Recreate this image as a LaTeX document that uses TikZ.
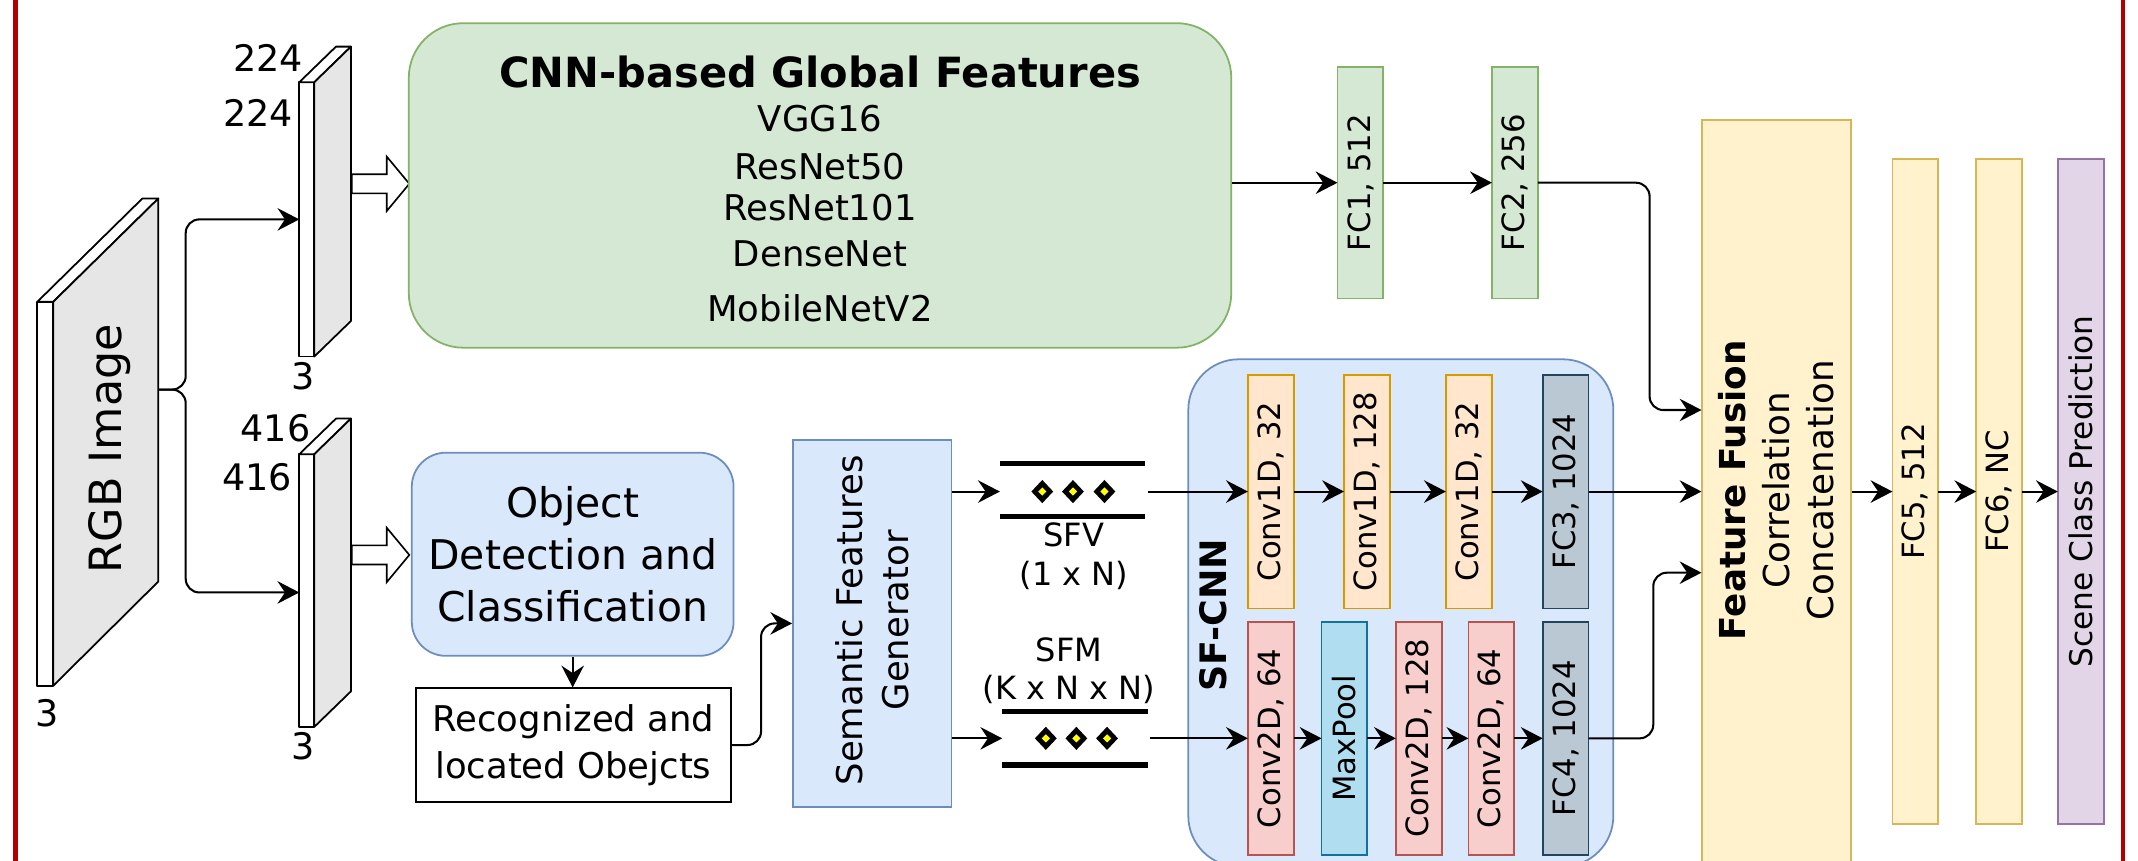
\documentclass[tikz,border=0pt]{standalone}
\usepackage{fontspec}
\usepackage{graphicx}
\setmainfont{DejaVu Sans}
\usetikzlibrary{arrows.meta}
\definecolor{gfill}{HTML}{D5E8D4}\definecolor{gline}{HTML}{82B366}
\definecolor{bfill}{HTML}{DAE8FC}\definecolor{bline}{HTML}{6C8EBF}
\definecolor{ofill}{HTML}{FFE6CC}\definecolor{oline}{HTML}{D79B00}
\definecolor{rfill}{HTML}{F8CECC}\definecolor{rline}{HTML}{B85450}
\definecolor{mfill}{HTML}{B1DDF0}\definecolor{mline}{HTML}{10739E}
\definecolor{sfill}{HTML}{BAC8D3}\definecolor{sline}{HTML}{23445D}
\definecolor{yfill}{HTML}{FFF2CC}\definecolor{yline}{HTML}{D6B656}
\definecolor{pfill}{HTML}{E1D5E7}\definecolor{pline}{HTML}{9673A6}
\definecolor{slabgray}{HTML}{E6E6E6}
\definecolor{frame}{HTML}{B20000}
\definecolor{dotyellow}{HTML}{FFFF00}
\tikzset{
  layer/.style={draw, line width=1.3pt, inner sep=0pt, outer sep=0pt, minimum width=33.6pt, font=\fontsize{22.5pt}{27pt}\selectfont},
  fcg/.style={layer, fill=gfill, draw=gline, minimum height=170pt},
  c1d/.style={layer, fill=ofill, draw=oline, minimum height=171.5pt},
  c2d/.style={layer, fill=rfill, draw=rline, minimum height=171pt},
  mpool/.style={layer, fill=mfill, draw=mline, minimum height=171pt},
  fcs/.style={layer, fill=sfill, draw=sline},
  fcy/.style={layer, fill=yfill, draw=yline, minimum height=488pt},
  arr/.style={-{Stealth[length=16pt,width=16.5pt,inset=5.5pt]}, line width=1.5pt},
  slab/.style={draw, line width=1.3pt, line join=round},
  dimlbl/.style={font=\fontsize{26.8pt}{32pt}\selectfont, inner sep=0pt},
  listlbl/.style={font=\fontsize{26pt}{31pt}\selectfont, inner sep=0pt},
  sflbl/.style={font=\fontsize{23.5pt}{28pt}\selectfont, inner sep=0pt},
  hollow/.style={draw, fill=white, line width=1.2pt, line join=miter},
  bar/.style={line width=3.8pt},
  dmd/.style={fill=black},
  dmdin/.style={fill=dotyellow},
}
\newcommand{\dmdat}[2]{%
  \fill[dmd] (#1,#2-8.5) -- (#1+8,#2) -- (#1,#2+8.5) -- (#1-8,#2) -- cycle;
  \fill[dmdin] (#1,#2-3) -- (#1+3,#2) -- (#1,#2+3) -- (#1-3,#2) -- cycle;}
\newcommand{\hollowarrow}[1]{%
  \draw[hollow] (258,#1-7) -- (283.6,#1-7) -- (283.6,#1-20) -- (300.2,#1) -- (283.6,#1+20) -- (283.6,#1+7) -- (258,#1+7) -- cycle;}
\begin{document}
\begin{tikzpicture}[x=1pt,y=-1pt]
\useasboundingbox (0,0) rectangle (1568,631);
\clip (0,0) rectangle (1568,631);

% red frame
\draw[frame, line width=3.6pt] (11.6,-5) -- (11.6,640);
\draw[frame, line width=3.6pt] (1557,-5) -- (1557,640);

% RGB slab
\draw[slab, fill=white] (27.4,221.3) rectangle (39.1,502.9);
\draw[slab, fill=white] (27.4,221.3) -- (104.4,145.6) -- (116.1,145.6) -- (39.1,221.3) -- cycle;
\draw[slab, fill=slabgray] (39.1,221.3) -- (116.1,145.6) -- (116.1,426.5) -- (39.1,502.9) -- cycle;
\node[rotate=90, font=\fontsize{32.6pt}{38pt}\selectfont, inner sep=0pt] (rgbtxt) at (80.7,328.9) {RGB Image};
\node[dimlbl] (rgb3) at (34.2,523) {3};
\coordinate (rgbR) at (116.1,285.7);

% top slab 224
\draw[slab, fill=white] (219.5,60.3) rectangle (230.5,261.5);
\draw[slab, fill=white] (219.5,60.3) -- (246.4,34.2) -- (257.4,34.2) -- (230.5,60.3) -- cycle;
\draw[slab, fill=slabgray] (230.5,60.3) -- (257.4,34.2) -- (257.4,235.4) -- (230.5,261.5) -- cycle;
\node[dimlbl] (d224a) at (196.8,42.2) {224};
\node[dimlbl] (d224b) at (189.2,82.5) {224};
\node[dimlbl] (d224c) at (222.5,275.6) {3};
\coordinate (s1L) at (219.5,160.9);

% bottom slab 416
\draw[slab, fill=white] (219.5,333.1) rectangle (230.5,533.1);
\draw[slab, fill=white] (219.5,333.1) -- (246.4,307) -- (257.4,307) -- (230.5,333.1) -- cycle;
\draw[slab, fill=slabgray] (230.5,333.1) -- (257.4,307) -- (257.4,507) -- (230.5,533.1) -- cycle;
\node[dimlbl] (d416a) at (202,313.8) {416};
\node[dimlbl] (d416b) at (188.7,350) {416};
\node[dimlbl] (d416c) at (222.5,547.2) {3};
\coordinate (s2L) at (219.5,434.5);

% branch connectors
\draw[arr, rounded corners=10pt] (rgbR) -- (136.2,285.7) |- (s1L);
\draw[arr, rounded corners=10pt] (rgbR) -- (136.2,285.7) |- (s2L);

% hollow arrows
\hollowarrow{134.8}
\hollowarrow{407}

% green box
\node[draw=gline, fill=gfill, line width=1.3pt, rounded corners=40pt, minimum width=603.2pt, minimum height=238pt, inner sep=0pt] (green) at (601.4,136) {};
\node[font=\bfseries\fontsize{30.5pt}{36pt}\selectfont, inner sep=0pt] (gtitle) at (601.4,52.8) {CNN-based Global Features};
\node[listlbl] (vgg) at (601.4,86.8) {VGG16};
\node[listlbl] (r50) at (601.4,122) {ResNet50};
\node[listlbl] (r101) at (601.4,152.2) {ResNet101};
\node[listlbl] (dense) at (601.4,186.2) {DenseNet};
\node[listlbl] (mobile) at (601.4,226.4) {MobileNetV2};

% FC1, FC2
\node[fcg] (fc1) at (997.7,134) {\rotatebox{90}{FC1, 512}};
\node[fcg] (fc2) at (1111,134) {\rotatebox{90}{FC2, 256}};
\draw[arr] (fc1.west -| green.east) -- (fc1.west);
\draw[arr] (fc1.east) -- (fc2.west);

% object detection
\node[draw=bline, fill=bfill, line width=1.3pt, rounded corners=25pt, minimum width=236pt, minimum height=149pt, inner sep=0pt, align=center, font=\fontsize{30pt}{38pt}\selectfont] (od) at (420,406.5) {Object\\Detection and\\Classification};
\node[draw, fill=white, line width=1.3pt, minimum width=231pt, minimum height=83.2pt, inner sep=0pt, align=center, font=\fontsize{26pt}{34.5pt}\selectfont] (rec) at (420.5,546.4) {Recognized and\\located Obejcts};
\draw[arr] (od.south) -- (od.south |- rec.north);

% semantic features generator
\node[draw=bline, fill=bfill, line width=1.3pt, minimum width=116.2pt, minimum height=268.9pt, inner sep=0pt] (sfg) at (639.7,457.2) {};
\node[rotate=90, align=center, font=\fontsize{26pt}{33.6pt}\selectfont, inner sep=0pt] (sfgtxt) at (639.8,455) {Semantic Features\\Generator};
\draw[arr, rounded corners=10pt] (rec.east) -- ++(21.5,0) |- (sfg.west);

% SFV
\coordinate (sfvL) at (733.3,360.5);
\coordinate (sfvR) at (842,360.5);
\draw[bar] (733.3,339.8) -- (840,339.8);
\draw[bar] (733.3,379) -- (840,379);
\dmdat{764.4}{360.5}
\dmdat{786.9}{360.5}
\dmdat{810}{360.5}
\node[sflbl] (sfvt) at (787.6,392.5) {SFV};
\node[sflbl] (sfvd) at (787.6,421.7) {(1 x N)};
\draw[arr] (sfg.east |- sfvL) -- (sfvL);

% SFM
\coordinate (sfmL) at (735,541.5);
\coordinate (sfmR) at (843.7,541.5);
\draw[bar] (735,522) -- (841.8,522);
\draw[bar] (735,561) -- (841.8,561);
\dmdat{767}{541.5}
\dmdat{789.4}{541.5}
\dmdat{811.9}{541.5}
\node[sflbl] (sfmt) at (784,476.7) {SFM};
\node[sflbl] (sfmd) at (784,506) {(K x N x N)};
\draw[arr] (sfg.east |- sfmL) -- (sfmL);

% SF-CNN container
\node[draw=bline, fill=bfill, line width=1.3pt, rounded corners=37pt, minimum width=311.7pt, minimum height=372pt, inner sep=0pt] (sfcnn) at (1027.35,449.5) {};
\node[rotate=90, font=\bfseries\fontsize{26.7pt}{32pt}\selectfont, inner sep=0pt] (sfcnntxt) at (889.9,451) {SF-CNN};

% top row
\node[c1d] (c1a) at (932,360.5) {\rotatebox{90}{Conv1D, 32}};
\node[c1d] (c1b) at (1002.5,360.5) {\rotatebox{90}{Conv1D, 128}};
\node[c1d] (c1c) at (1077.2,360.5) {\rotatebox{90}{Conv1D, 32}};
\node[fcs, minimum height=171.5pt] (fc3) at (1148.2,360.5) {\rotatebox{90}{FC3, 1024}};
% bottom row
\node[c2d] (c2a) at (932,541.5) {\rotatebox{90}{Conv2D, 64}};
\node[mpool] (mp) at (986,541.5) {\rotatebox{90}{MaxPool}};
\node[c2d] (c2b) at (1040.5,541.5) {\rotatebox{90}{Conv2D, 128}};
\node[c2d] (c2c) at (1093.7,541.5) {\rotatebox{90}{Conv2D, 64}};
\node[fcs, minimum height=171pt] (fc4) at (1148.2,541.5) {\rotatebox{90}{FC4, 1024}};

\draw[arr] (sfvR) -- (c1a.west);
\draw[arr] (c1a.east) -- (c1b.west);
\draw[arr] (c1b.east) -- (c1c.west);
\draw[arr] (c1c.east) -- (fc3.west);
\draw[arr] (sfmR) -- (c2a.west);
\draw[arr] (c2a.east) -- (mp.west);
\draw[arr] (mp.east) -- (c2b.west);
\draw[arr] (c2b.east) -- (c2c.west);
\draw[arr] (c2c.east) -- (fc4.west);

% feature fusion
\node[draw=yline, fill=yfill, line width=1.3pt, minimum width=109pt, minimum height=545pt, inner sep=0pt] (fus) at (1303,360.5) {};
\node[rotate=90, align=center, font=\fontsize{26.2pt}{32.5pt}\selectfont, inner sep=0pt] (fustxt) at (1302.5,359.5) {\textbf{Feature Fusion}\\Correlation\\Concatenation};
\draw[arr, rounded corners=10pt] (fc2.east) -- ++(82,0) |- ([yshift=59.8pt]fus.west);
\draw[arr] (fc3.east) -- (fus.west |- fc3.east);
\draw[arr, rounded corners=10pt] (fc4.east) -- ++(47.5,0) |- ([yshift=-59.5pt]fus.west);

% FC5, FC6, scene
\node[fcy] (fc5) at (1404.7,360.5) {\rotatebox{90}{FC5, 512}};
\node[fcy] (fc6) at (1466.2,360.5) {\rotatebox{90}{FC6, NC}};
\node[layer, fill=pfill, draw=pline, minimum height=488pt, font=\fontsize{22.9pt}{27pt}\selectfont] (scene) at (1526,360.5) {\rotatebox{90}{Scene Class Prediction}};
\draw[arr] (fus.east) -- (fc5.west);
\draw[arr] (fc5.east) -- (fc6.west);
\draw[arr] (fc6.east) -- (scene.west);
\end{tikzpicture}
\end{document}
